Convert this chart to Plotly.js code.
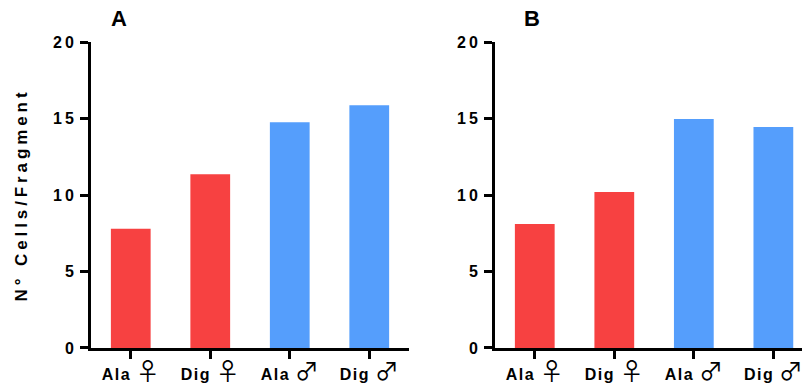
<!DOCTYPE html>
<html>
<head>
<meta charset="utf-8">
<script src="https://cdn.plot.ly/plotly-3.0.1.min.js"></script>
<style>
  html, body { margin: 0; padding: 0; background: #fff; }
  #chart { width: 802px; height: 390px; }
  .ytick text, .y2tick text { letter-spacing: 3px; }
  .xtick text, .x2tick text { letter-spacing: 1.5px; }
  .g-ytitle text { letter-spacing: 3.9px; }
</style>
</head>
<body>
<div id="chart"></div>
<script>
// Cell counts per fragment for each group, two panels
const groups = ["Ala", "Dig", "Ala", "Dig"];
const sexes = ["♀", "♀", "♂", "♂"];
const panelA = [7.8, 11.35, 14.75, 15.87];
const panelB = [8.1, 10.2, 14.97, 14.45];
const barColors = ["#F74141", "#F74141", "#559EFC", "#559EFC"];
const yTicks = [0, 5, 10, 15, 20];
const panelNames = ["A", "B"];

const catIdx = groups.map((_, i) => i);
// bold group name, a thin space, then a thin, larger sex symbol
const groupLabels = groups.map((g, i) =>
  "<b>" + g + "</b>\u2009<span style='font-family:Noto Sans CJK JP;font-size:24px;letter-spacing:0px'>" + sexes[i] + "</span>");

const traces = [
  { type: "bar", x: catIdx, y: panelA, marker: { color: barColors }, xaxis: "x", yaxis: "y", hoverinfo: "y" },
  { type: "bar", x: catIdx, y: panelB, marker: { color: barColors }, xaxis: "x2", yaxis: "y2", hoverinfo: "y" }
];

const fam = "Liberation Sans, Arial, sans-serif";

function xAxis(domain, range, anchor) {
  return {
    domain: domain, range: range, anchor: anchor,
    tickmode: "array", tickvals: catIdx, ticktext: groupLabels,
    showline: true, linecolor: "#000", linewidth: 3,
    ticks: "outside", ticklen: 8, tickwidth: 3, tickcolor: "#000",
    ticklabelstandoff: 2, ticklabeloverflow: "allow",
    showgrid: false, zeroline: false, fixedrange: true,
    tickfont: { family: fam, size: 16, color: "#000" }
  };
}
function yAxis(anchor) {
  return {
    domain: [0.1077, 0.8923], range: [0, 20], anchor: anchor,
    tickmode: "array", tickvals: yTicks, ticktext: yTicks.map(v => "<b>" + v + "</b>"),
    showline: true, linecolor: "#000", linewidth: 3,
    ticks: "outside", ticklen: 8, tickwidth: 3, tickcolor: "#000",
    showgrid: false, zeroline: false, fixedrange: true,
    tickfont: { family: fam, size: 16, color: "#000" }
  };
}

const yA = yAxis("x");
yA.title = {
  text: "<b>N° Cells/Fragment</b>", standoff: 22,
  font: { family: fam, size: 17, color: "#000" }
};

const layout = {
  width: 802, height: 390,
  margin: { l: 0, r: 0, t: 0, b: 0 },
  paper_bgcolor: "#fff", plot_bgcolor: "#fff",
  showlegend: false, bargap: 0.5,
  xaxis: xAxis([91 / 802, 409 / 802], [-0.5, 3.5], "y"),
  yaxis: yA,
  xaxis2: xAxis([495 / 802, 1], [-0.5, 3.36], "y2"),
  yaxis2: yAxis("x2"),
  annotations: panelNames.map((t, i) => ({
    text: "<b>" + t + "</b>", showarrow: false,
    xref: "paper", yref: "paper",
    x: (i === 0 ? 119 : 532) / 802, y: 1 - 18 / 390,
    xanchor: "center", yanchor: "middle",
    font: { family: fam, size: 22, color: "#000" }
  }))
};

Plotly.newPlot("chart", traces, layout, { displayModeBar: false, staticPlot: true });
</script>
</body>
</html>
